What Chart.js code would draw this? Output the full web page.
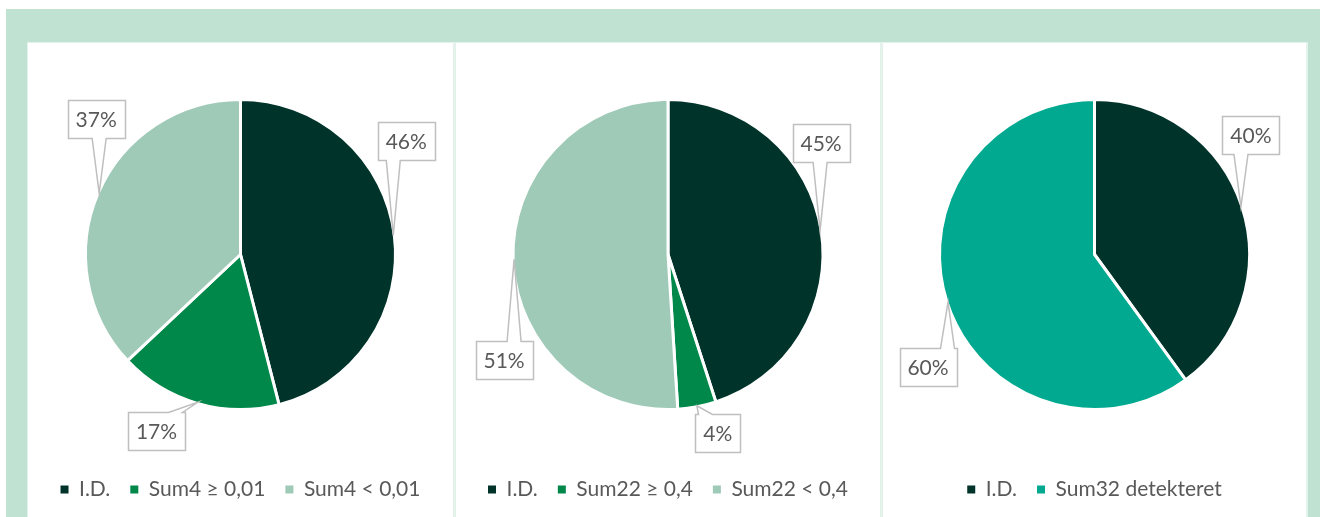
<!DOCTYPE html>
<html>
<head>
<meta charset="utf-8">
<script src="https://cdn.jsdelivr.net/npm/chart.js@4/dist/chart.umd.min.js"></script>
<style>
  html, body { margin: 0; padding: 0; background: #fff; }
  body { width: 1320px; height: 517px; position: relative; overflow: hidden; font-family: Lato, sans-serif; }
  #frame { position: absolute; left: 6px; top: 9px; width: 1314px; height: 508px; background: #bfe2d3; }
  #sheet { position: absolute; left: 27px; top: 42px; width: 1281px; height: 475px; background: #e4f2ec; }
  .panel { position: absolute; top: 43px; height: 474px; background: #fff; }
  .panel canvas { display: block; }
</style>
</head>
<body>
<div id="frame"></div>
<div id="sheet"></div>
<div class="panel" style="left:28px;width:425px"><canvas id="c1" width="425" height="474"></canvas></div>
<div class="panel" style="left:456px;width:424px"><canvas id="c2" width="424" height="474"></canvas></div>
<div class="panel" style="left:883px;width:423px"><canvas id="c3" width="423" height="474"></canvas></div>
<script>
// Data (percent shares, clockwise from 12 o'clock)
const sum4Labels = ['I.D.', 'Sum4 \u2265 0,01', 'Sum4 < 0,01'];
const sum4Values = [46, 17, 37];

const sum22Labels = ['I.D.', 'Sum22 \u2265 0,4', 'Sum22 < 0,4'];
const sum22Values = [45, 4, 51];

const sum32Labels = ['I.D.', 'Sum32 detekteret'];
const sum32Values = [40, 60];

const DARK = '#00332a';
const MID = '#00884a';
const LIGHT = '#9fcab7';
const TEAL = '#00a98f';
const TEXT = '#595959';

// Excel-style wedge callouts: box centre offset from the slice tip
const calloutPlugin = {
    id: 'callouts',
    afterDatasetsDraw(chart, args, opts) {
        const ctx = chart.ctx;
        const meta = chart.getDatasetMeta(0);
        const data = chart.data.datasets[0].data;
        const total = data.reduce((a, b) => a + b, 0);
        ctx.save();
        ctx.font = opts.font;
        ctx.textAlign = 'center';
        ctx.textBaseline = 'middle';
        meta.data.forEach((arc, i) => {
            const p = arc.getProps(['x', 'y', 'startAngle', 'endAngle', 'outerRadius'], true);
            const mid = (p.startAngle + p.endAngle) / 2;
            const tx = p.x + Math.cos(mid) * (p.outerRadius - 1);
            const ty = p.y + Math.sin(mid) * (p.outerRadius - 1);
            const off = opts.offsets[i];
            const cx = tx + off[0];
            const cy = ty + off[1];
            const text = Math.round(data[i] / total * 100) + '%';
            const w = Math.round(ctx.measureText(text).width + opts.padX * 2);
            const h = opts.boxH;
            const l = Math.round(cx - w / 2) + 0.5, r = l + w;
            const t = Math.round(cy - h / 2) + 0.5, b = t + h;
            const hw = 7;
            ctx.beginPath();
            const vertical = Math.abs(off[1]) / (h / 2) > Math.abs(off[0]) / (w / 2);
            if (vertical) {
                const bx = Math.min(Math.max(tx, l + hw + 3), r - hw - 3);
                if (off[1] < 0) { // tip below box
                    ctx.moveTo(l, t); ctx.lineTo(r, t); ctx.lineTo(r, b);
                    ctx.lineTo(bx + hw, b); ctx.lineTo(tx, ty); ctx.lineTo(bx - hw, b);
                    ctx.lineTo(l, b);
                } else {          // tip above box
                    ctx.moveTo(l, t); ctx.lineTo(bx - hw, t); ctx.lineTo(tx, ty);
                    ctx.lineTo(bx + hw, t); ctx.lineTo(r, t); ctx.lineTo(r, b);
                    ctx.lineTo(l, b);
                }
            } else {
                const by = Math.min(Math.max(ty, t + hw + 3), b - hw - 3);
                if (off[0] < 0) { // tip right of box
                    ctx.moveTo(l, t); ctx.lineTo(r, t); ctx.lineTo(r, by - hw);
                    ctx.lineTo(tx, ty); ctx.lineTo(r, by + hw); ctx.lineTo(r, b);
                    ctx.lineTo(l, b);
                } else {
                    ctx.moveTo(l, t); ctx.lineTo(r, t); ctx.lineTo(r, b); ctx.lineTo(l, b);
                    ctx.lineTo(l, by + hw); ctx.lineTo(tx, ty); ctx.lineTo(l, by - hw);
                }
            }
            ctx.closePath();
            ctx.fillStyle = '#fff';
            ctx.fill();
            ctx.lineWidth = 1.5;
            ctx.strokeStyle = '#bfbfbf';
            ctx.stroke();
            ctx.fillStyle = TEXT;
            ctx.fillText(text, cx, cy + 1);
        });
        ctx.restore();
    },
};

// legend squares without the white slice border
function legendLabels(chart) {
    const items = Chart.overrides.pie.plugins.legend.labels.generateLabels(chart);
    items.forEach(it => { it.lineWidth = 0; it.strokeStyle = it.fillStyle; });
    return items;
}

function makePie(id, labels, values, colors, offsets) {
    return new Chart(document.getElementById(id), {
        type: 'pie',
        data: {
            labels,
            datasets: [{
                data: values,
                backgroundColor: colors,
                borderColor: '#fff',
                borderWidth: 3,
                hoverOffset: 0,
            }],
        },
        options: {
            responsive: false,
            animation: false,
            events: [],
            radius: 155,
            layout: { padding: { top: 7, bottom: 7 } },
            plugins: {
                tooltip: { enabled: false },
                legend: {
                    position: 'bottom',
                    labels: {
                        boxWidth: 8,
                        boxHeight: 8,
                        padding: 20,
                        color: TEXT,
                        font: { family: 'Lato', size: 21 },
                        generateLabels: legendLabels,
                    },
                },
                callouts: {
                    font: '21px Lato',
                    padX: 8,
                    boxH: 38,
                    offsets,
                },
            },
        },
        plugins: [calloutPlugin],
    });
}

makePie('c1', sum4Labels, sum4Values, [DARK, MID, LIGHT],
    [[13, -94], [-41, 29], [-3, -74]]);
makePie('c2', sum22Labels, sum22Values, [DARK, MID, LIGHT],
    [[1, -87], [21, 27], [-10, 101]]);
makePie('c3', sum32Labels, sum32Values, [DARK, TEAL],
    [[10, -72], [-20, 65]]);
</script>
</body>
</html>
